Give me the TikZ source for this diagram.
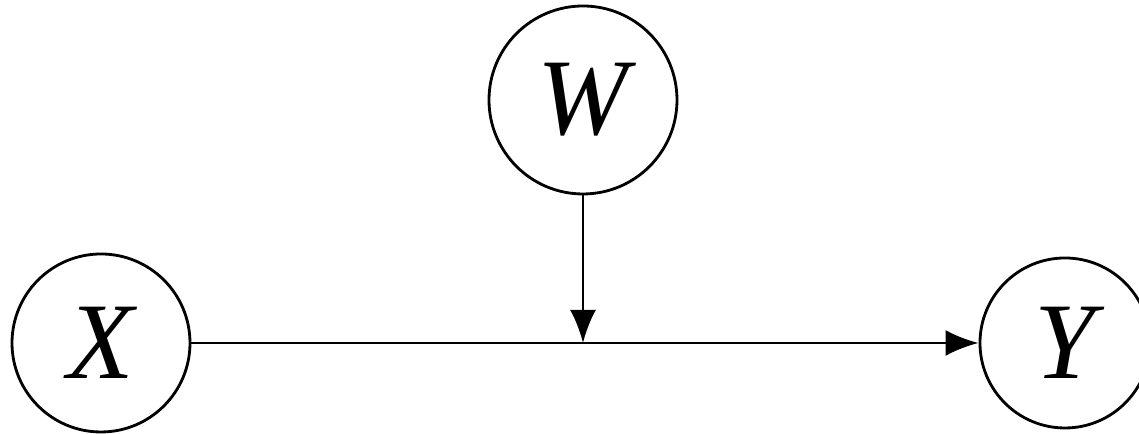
\documentclass[tikz,border=0pt]{standalone}
\usepackage{fontspec}
\setmainfont{Liberation Serif}
\usetikzlibrary{arrows.meta}
\tikzset{every picture/.style={line width=0.8pt}}

\begin{document}
\begin{tikzpicture}[>={Latex[length=3.3mm,width=2.6mm]}, every node/.style={font=\fontsize{31}{36}\selectfont\itshape}]
        \useasboundingbox (0,0) rectangle (11.39,4.34);
        \node[circle, draw, minimum size=1.78cm, inner sep=0pt] (x) at (1.01, 0.91) {X};
        \node[circle, draw, minimum size=1.70cm, inner sep=0pt] (y) at (10.65, 0.91) {Y};
        \node[circle, draw, minimum size=1.88cm, inner sep=0pt] (w) at (5.83, 3.34) {W};
        \draw[->] (x) -- (y);
        \draw[->] (w) -- (w |- x);
    \end{tikzpicture}
\end{document}
